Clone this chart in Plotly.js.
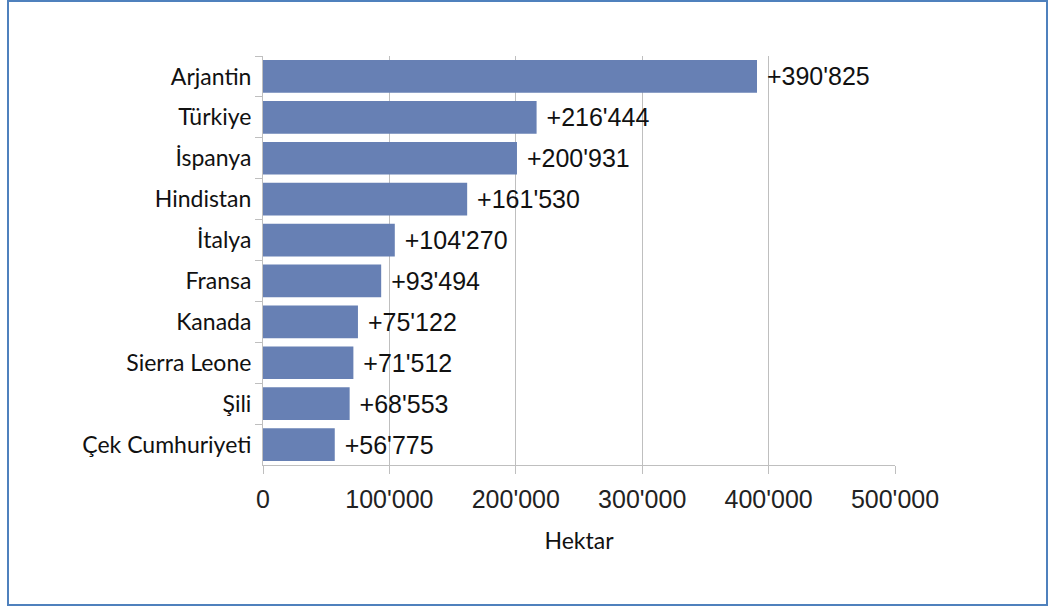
<!DOCTYPE html>
<html>
<head>
<meta charset="utf-8">
<script src="https://cdn.plot.ly/plotly-3.0.1.min.js"></script>
<style>
  html, body { margin: 0; padding: 0; background: #fff; }
  #wrap { position: relative; width: 1052px; height: 607px; }
  #chart { position: absolute; left: 0; top: 0; width: 1052px; height: 607px; }
  #frame { position: absolute; left: 7px; top: 0px; width: 1037px; height: 602px; border: 2px solid #4f81bd; pointer-events: none; }
</style>
</head>
<body>
<div id="wrap">
  <div id="chart"></div>
  <div id="frame"></div>
</div>
<script>
const countries = ["Arjantin", "Türkiye", "İspanya", "Hindistan", "İtalya", "Fransa", "Kanada", "Sierra Leone", "Şili", "Çek Cumhuriyeti"];
const hectares = [390825, 216444, 200931, 161530, 104270, 93494, 75122, 71512, 68553, 56775];
const xTicks = [0, 100000, 200000, 300000, 400000, 500000];
const xTitle = "Hektar";

const trace = {
  type: "bar",
  orientation: "h",
  y: countries,
  x: hectares,
  width: 0.8,
  marker: { color: "#6780b4", line: { width: 0 } },
  texttemplate: "\u00a0+%{x:,d}",
  textposition: "outside",
  cliponaxis: false,
  constraintext: "none",
  textfont: { family: "Liberation Sans, Arial, sans-serif", size: 25, color: "#111" },
  hoverinfo: "none"
};

const layout = {
  width: 1052,
  height: 607,
  margin: { l: 263, r: 157, t: 56, b: 142 },
  paper_bgcolor: "#fff",
  plot_bgcolor: "#fff",
  separators: ".'",
  showlegend: false,
  bargap: 0.2,
  xaxis: {
    range: [0, 500000],
    tickvals: xTicks,
    tickformat: ",d",
    showgrid: true,
    gridcolor: "#bfbfbf",
    gridwidth: 1,
    zeroline: false,
    showline: true,
    linecolor: "#bfbfbf",
    linewidth: 1,
    ticks: "outside",
    ticklen: 8,
    tickcolor: "#bfbfbf",
    ticklabelstandoff: 4,
    tickfont: { family: "Liberation Sans, Arial, sans-serif", size: 25, color: "#222" },
    title: { text: xTitle, font: { family: "Lato, Noto Sans, sans-serif", size: 23, color: "#111" }, standoff: 20 }
  },
  yaxis: {
    type: "category",
    autorange: "reversed",
    showline: true,
    linecolor: "#bfbfbf",
    linewidth: 1,
    ticks: "outside",
    tickson: "boundaries",
    ticklen: 7,
    tickcolor: "#bfbfbf",
    ticklabelstandoff: 6,
    showgrid: false,
    tickfont: { family: "Lato, Noto Sans, sans-serif", size: 23, color: "#111" }
  }
};

Plotly.newPlot("chart", [trace], layout, { displayModeBar: false, staticPlot: true });
</script>
</body>
</html>
